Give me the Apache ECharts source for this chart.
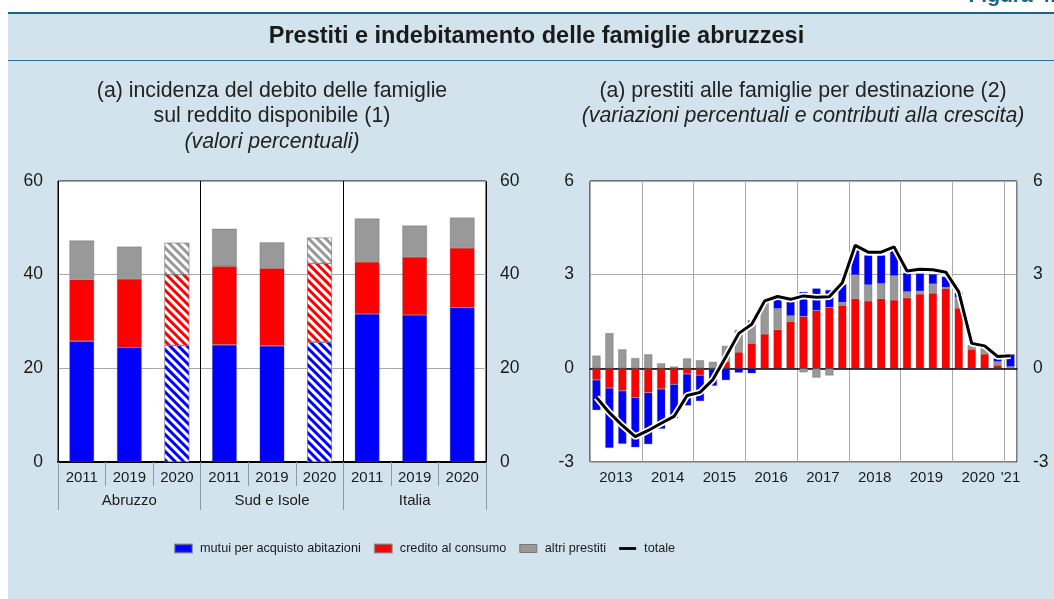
<!DOCTYPE html>
<html>
<head>
<meta charset="utf-8">
<script src="https://cdn.jsdelivr.net/npm/echarts@6.0.0/dist/echarts.min.js"></script>
<style>
  html, body { margin: 0; padding: 0; background: #fff; }
  #panel { position: absolute; left: 8px; top: 12px; width: 1046px; height: 587px; background: #d2e3ee;
           border-top: 2.5px solid #1b6384; box-sizing: border-box; }
  #sep { position: absolute; left: 8px; top: 59.5px; width: 1046px; height: 1px; background: #2d6d8c; }
  #chart { position: absolute; left: 0; top: 0; width: 1054px; height: 599px; }
</style>
</head>
<body>
<div id="panel"></div>
<div id="sep"></div>
<div id="chart"></div>
<script>
// ---- (a) incidenza del debito sul reddito disponibile ----
var anniL = ['2011', '2019', '2020', '2011', '2019', '2020', '2011', '2019', '2020'];
var aree = ['Abruzzo', 'Sud e Isole', 'Italia'];
var mutuiL = [25.8, 24.5, 24.9, 25.0, 24.8, 25.6, 31.6, 31.4, 33.0];
var creditoL = [13.1, 14.6, 15.1, 16.8, 16.6, 16.8, 11.1, 12.4, 12.7];
var altriL = [8.4, 6.9, 6.8, 8.0, 5.5, 5.5, 9.3, 6.7, 6.5];
var stimati = [2, 5];   // barre tratteggiate (dati provvisori)

// ---- (b) prestiti per destinazione, trimestrale 2013-2021 ----
var anniR = ['2013', '2014', '2015', '2016', '2017', '2018', '2019', '2020', '2021'];
var creditoR = [-0.37, -0.63, -0.72, -0.93, -0.78, -0.66, -0.51, -0.18, -0.22, -0.02, 0.21,
                0.52, 0.80, 1.10, 1.24, 1.50, 1.66, 1.85, 1.95, 2.02, 2.23, 2.16,
                2.23, 2.19, 2.26, 2.38, 2.41, 2.56, 1.93, 0.61, 0.46, 0.10, 0.02];
var altriR = [0.41, 1.13, 0.61, 0.33, 0.45, 0.16, 0.06, 0.32, 0.26, 0.21, 0.51,
              0.71, 0.75, 1.01, 0.67, 0.18, -0.13, -0.30, -0.23, 0.09, 0.76, 0.51,
              0.48, 0.77, 0.19, 0.09, 0.29, 0.03, 0.34, 0.13, 0.16, 0.11, 0.03];
var mutuiR = [-0.97, -1.92, -1.70, -1.60, -1.65, -1.28, -1.09, -1.01, -0.83, -0.54, -0.38,
              -0.14, -0.16, 0.05, 0.35, 0.45, 0.79, 0.71, 0.56, 0.58, 0.85, 0.95,
              0.91, 0.87, 0.61, 0.57, 0.32, 0.35, 0.16, -0.05, 0.05, 0.11, 0.40];
var totale = [-0.93, -1.42, -1.83, -2.19, -1.99, -1.76, -1.54, -0.87, -0.77, -0.36, 0.37,
              1.12, 1.41, 2.16, 2.30, 2.21, 2.32, 2.28, 2.29, 2.74, 3.94, 3.72,
              3.72, 3.89, 3.12, 3.17, 3.16, 3.08, 2.45, 0.80, 0.72, 0.38, 0.40];
var etichetteAnni = ['2013', '2014', '2015', '2016', '2017', '2018', '2019', '2020', "'21"];
var posEtichette = [2, 6, 10, 14, 18, 22, 26, 30, 32.5];

var trimestri = [];
anniR.forEach(function (a) {
  for (var q = 1; q <= 4; q++) {
    if (trimestri.length < creditoR.length) trimestri.push(a + ' T' + q);
  }
});

var FONT = "'Liberation Sans', Arial, sans-serif";
var BLU = '#0000ff', ROSSO = '#ff0000', GRIGIO = '#999999';
var NOMI = ['mutui per acquisto abitazioni', 'credito al consumo', 'altri prestiti', 'totale'];

function tratteggio(vals) {
  return vals.map(function (v, i) {
    if (stimati.indexOf(i) < 0) return v;
    return {
      value: v,
      itemStyle: {
        decal: { symbol: 'rect', symbolSize: 1, color: '#ffffff',
                 dashArrayX: [1, 0], dashArrayY: [2.4, 2.6], rotation: Math.PI / 4 }
      }
    };
  });
}

var barBorder = { borderColor: 'rgba(90,90,90,0.55)', borderWidth: 0.6 };
function stile(c) { return Object.assign({ color: c }, barBorder); }

var chart = echarts.init(document.getElementById('chart'));

var yLabel = { fontSize: 17.5, color: '#1a1a1a', fontFamily: FONT };
var xLabel = { fontSize: 15, color: '#1a1a1a', fontFamily: FONT };

chart.setOption({
  animation: false,
  textStyle: { fontFamily: FONT },
  graphic: [
    { type: 'text', x: 1056, y: 7, style: { text: 'Figura 4.', font: 'bold 21px ' + FONT, fill: '#1b6384', align: 'right', verticalAlign: 'bottom' } },
    { type: 'text', x: 536.5, y: 37, style: { text: 'Prestiti e indebitamento delle famiglie abruzzesi', font: 'bold 23.5px ' + FONT, fill: '#1a1a1a', align: 'center', verticalAlign: 'middle' } },
    { type: 'text', x: 272, y: 91, style: { text: '(a) incidenza del debito delle famiglie', font: '21.3px ' + FONT, fill: '#222', align: 'center', verticalAlign: 'middle' } },
    { type: 'text', x: 272, y: 116.5, style: { text: 'sul reddito disponibile (1)', font: '21.3px ' + FONT, fill: '#222', align: 'center', verticalAlign: 'middle' } },
    { type: 'text', x: 272, y: 142, style: { text: '(valori percentuali)', font: 'italic 21.3px ' + FONT, fill: '#222', align: 'center', verticalAlign: 'middle' } },
    { type: 'text', x: 803, y: 91, style: { text: '(a) prestiti alle famiglie per destinazione (2)', font: '21.3px ' + FONT, fill: '#222', align: 'center', verticalAlign: 'middle' } },
    { type: 'text', x: 803, y: 116.5, style: { text: '(variazioni percentuali e contributi alla crescita)', font: 'italic 21.3px ' + FONT, fill: '#222', align: 'center', verticalAlign: 'middle' } }
  ],
  legend: {
    data: [
      { name: NOMI[0], icon: 'rect' },
      { name: NOMI[1], icon: 'rect' },
      { name: NOMI[2], icon: 'rect', itemStyle: { borderColor: '#777', borderWidth: 1 } },
      { name: NOMI[3], icon: 'path://M0,0H18V3H0Z' }
    ],
    left: 169, top: 537,
    itemWidth: 17, itemHeight: 8, itemGap: 13,
    textStyle: { fontSize: 12.7, color: '#1a1a1a', fontFamily: FONT, padding: [0, 0, 0, 3] }
  },
  grid: [
    { left: 58, top: 181, width: 428, height: 281, show: true, backgroundColor: '#fff', borderColor: '#000', borderWidth: 1 },
    { left: 590, top: 181, width: 427, height: 281, show: true, backgroundColor: '#fff', borderColor: '#000', borderWidth: 1 }
  ],
  xAxis: [
    { gridIndex: 0, type: 'category', data: anniL, position: 'bottom',
      axisLine: { lineStyle: { color: '#000', width: 2 } },
      axisTick: { show: true, interval: 0, length: 24, lineStyle: { color: '#8a9aa6' } },
      axisLabel: Object.assign({ interval: 0, margin: 8 }, xLabel),
      splitLine: { show: false } },
    { gridIndex: 0, type: 'category', data: aree, position: 'bottom',
      axisLine: { show: false, onZero: false },
      axisTick: { show: true, interval: 0, length: 48, lineStyle: { color: '#8a9aa6' } },
      axisLabel: Object.assign({ interval: 0, margin: 31 }, xLabel),
      splitLine: { show: true, lineStyle: { color: '#000', width: 1 } } },
    { gridIndex: 1, type: 'category', data: trimestri,
      axisLine: { onZero: true, lineStyle: { color: '#000', width: 1.5 } },
      axisTick: { show: false }, axisLabel: { show: false },
      splitLine: { show: true, interval: function (i) { return i % 4 === 0; }, lineStyle: { color: '#aaaaaa' } } },
    { gridIndex: 1, type: 'value', min: 0, max: trimestri.length, position: 'bottom',
      axisLine: { show: false, onZero: false }, axisTick: { show: false }, splitLine: { show: false },
      axisLabel: Object.assign({
        margin: 8, customValues: posEtichette,
        formatter: function (v) { var k = posEtichette.indexOf(v); return k < 0 ? '' : etichetteAnni[k]; }
      }, xLabel) }
  ],
  yAxis: [
    { gridIndex: 0, type: 'value', min: 0, max: 60, interval: 20, position: 'left',
      axisLine: { show: false, onZero: false }, axisTick: { show: false },
      axisLabel: Object.assign({ margin: 15 }, yLabel),
      splitLine: { lineStyle: { color: '#aaaaaa' } } },
    { gridIndex: 0, type: 'value', min: 0, max: 60, interval: 20, position: 'right',
      axisLine: { show: false, onZero: false }, axisTick: { show: false },
      axisLabel: Object.assign({ margin: 14 }, yLabel), splitLine: { show: false } },
    { gridIndex: 1, type: 'value', min: -3, max: 6, interval: 3, position: 'left',
      axisLine: { show: false, onZero: false }, axisTick: { show: false },
      axisLabel: Object.assign({ margin: 16 }, yLabel),
      splitLine: { lineStyle: { color: '#aaaaaa' } } },
    { gridIndex: 1, type: 'value', min: -3, max: 6, interval: 3, position: 'right',
      axisLine: { show: false, onZero: false }, axisTick: { show: false },
      axisLabel: Object.assign({ margin: 16 }, yLabel), splitLine: { show: false } }
  ],
  series: [
    // sinistra
    { name: NOMI[0], type: 'bar', xAxisIndex: 0, yAxisIndex: 0, stack: 'L', barWidth: '52%', itemStyle: stile(BLU), data: tratteggio(mutuiL) },
    { name: NOMI[1], type: 'bar', xAxisIndex: 0, yAxisIndex: 0, stack: 'L', itemStyle: stile(ROSSO), data: tratteggio(creditoL) },
    { name: NOMI[2], type: 'bar', xAxisIndex: 0, yAxisIndex: 0, stack: 'L', itemStyle: stile(GRIGIO), data: tratteggio(altriL) },
    // destra
    { name: NOMI[1], type: 'bar', xAxisIndex: 2, yAxisIndex: 2, stack: 'R', barWidth: '64%', itemStyle: stile(ROSSO), data: creditoR },
    { name: NOMI[2], type: 'bar', xAxisIndex: 2, yAxisIndex: 2, stack: 'R', itemStyle: stile(GRIGIO), data: altriR },
    { name: NOMI[0], type: 'bar', xAxisIndex: 2, yAxisIndex: 2, stack: 'R', itemStyle: stile(BLU), data: mutuiR },
    { name: 'alone', type: 'line', xAxisIndex: 2, yAxisIndex: 2, data: totale, symbol: 'none', silent: true, z: 5,
      lineStyle: { color: '#ffffff', width: 6.5 } },
    { name: NOMI[3], type: 'line', xAxisIndex: 2, yAxisIndex: 2, data: totale, symbol: 'none', z: 6,
      itemStyle: { color: '#000' }, lineStyle: { color: '#000', width: 3 } }
  ]
});
</script>
</body>
</html>
